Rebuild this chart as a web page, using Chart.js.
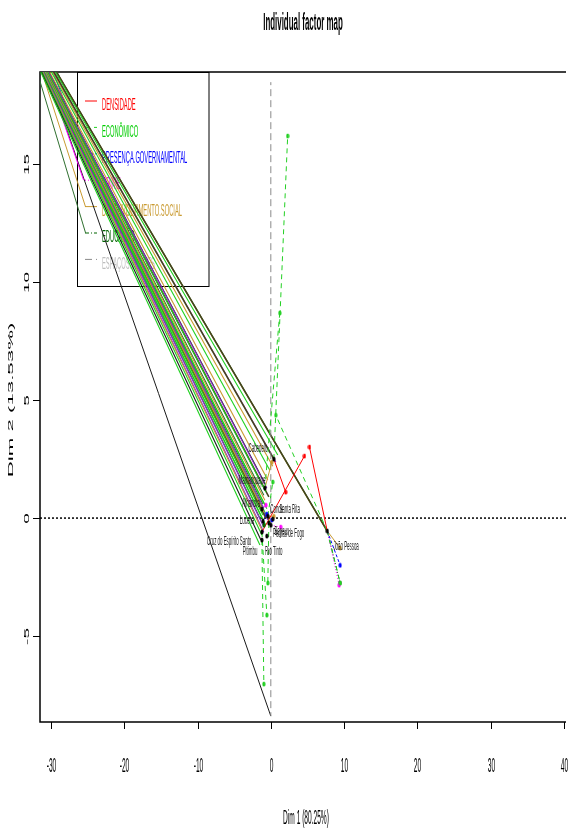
<!DOCTYPE html>
<html>
<head>
<meta charset="utf-8">
<script src="https://cdn.jsdelivr.net/npm/chart.js@4.4.1/dist/chart.umd.min.js"></script>
<style>
  html, body { margin: 0; padding: 0; background: #fff; }
  canvas { display: block; }
</style>
</head>
<body>
<canvas id="factor-map" width="571" height="828"></canvas>
<script>
// axis ticks
var xTicks = [-30, -20, -10, 0, 10, 20, 30, 40];
var yTicks = [-5, 0, 5, 10, 15];

// individuals (municipios) + where their labels sit
var indNames = ['Cabedelo', 'Mamanguape', 'Alhandra', 'Lucena', 'Conde', 'Santa Rita', 'Bayeux',
  'Pedras de Fogo', 'Cruz do Espírito Santo', 'Pitimbu', 'Rio Tinto', 'João Pessoa'];
var indX = [0.41, -0.81, -1.22, -1.08, -0.41, 0.27, -0.27, 0.00, -1.22, -1.22, -0.54, 7.70];
var indY = [2.50, 1.27, 0.38, -0.13, 0.08, -0.04, -0.21, -0.30, -0.59, -0.93, -0.76, -0.55];
var labX = [-1.76, -2.57, -2.70, -3.24, 0.81, 2.57, 1.49, 2.43, -5.68, -2.84, 0.41, 10.27];
var labY = [2.97, 1.61, 0.64, -0.08, 0.38, 0.38, -0.55, -0.64, -0.97, -1.40, -1.40, -1.19];

// groups
var groups = ['DENSIDADE', 'ECONÔMICO', 'PRESENÇA.GOVERNAMENTAL', 'CRIME', 'DESENVOLVIMENTO.SOCIAL', 'EDUCAÇÃO', 'ESPAÇOS.VERDES'];

// partial points: value + index of the individual it hangs from
var densX = [2.03, 4.59, 5.27];
var densY = [1.10, 2.63, 3.01];
var densFrom = [0, 8, 11];
var econX = [2.30, 1.22, 0.68, -0.95, -0.54, -0.41, 0.27, 9.46];
var econY = [16.19, 8.69, 4.36, -7.03, -4.11, -2.75, 1.53, -2.75];
var econFrom = [0, 1, 11, 9, 8, 6, 4, 11];
var presX = [9.46, -0.54, 0.14];
var presY = [-2.00, 0.17, -0.08];
var presFrom = [11, 3, 5];
var crimeX = [9.32, -0.68, 1.35];
var crimeY = [-2.84, 0.55, -0.38];
var crimeFrom = [11, 2, 7];
var desX = [9.46, 0.41, 0.14];
var desY = [-1.27, 0.08, 2.37];
var desFrom = [11, 4, 1];
var eduX = [9.46, -0.95];
var eduY = [-2.75, -0.30];
var eduFrom = [11, 3];
var espX = [0.00, 0.00];
var espY = [18.47, -8.39];
var espFrom = [7, 7];

// the long lines running off to the upper left
var fanOrigin = { x: -39.3, y: 24.2 };
var fanEndX = [-1.49, -1.35, -1.22, -1.22, -1.08, -1.35, -1.08, -0.95, -0.95, -0.81, -0.68, -0.41, -0.68, -0.81,
  -0.95, -0.68, -0.54, -0.81, -0.41, -0.14, 0.41, -0.14, 0.68, 0.95, 0.27, 7.70, 7.57, 7.84,
  -1.22, -1.08, -0.95, -1.35, -0.54, -0.27];
var fanEndY = [-1.14, -0.93, -0.72, -0.51, -0.30, -0.08, 0.13, 0.25, 0.42, 0.55, 0.00, -0.08, -0.30, 0.76,
  0.97, 1.10, 1.27, 1.48, 1.61, -0.17, 2.50, 2.03, 2.37, 2.67, 2.20, -0.55, -0.47, -0.64,
  0.00, 0.60, -0.60, 0.30, 0.40, 0.90];
var fanKind = ['green', 'black', 'green', 'gold', 'purple', 'dkgreen', 'green', 'gold', 'purple', 'green', 'olive', 'purple', 'green', 'gold',
  'dkgreen', 'green', 'purple', 'black', 'gold', 'green', 'olive', 'green', 'purple', 'green', 'gold', 'olive', 'dkgreen', 'gold',
  'green', 'dkgreen', 'purple', 'gold', 'green', 'olive'];
var fan2Origin = { x: -40.1, y: 27.4 };
var fan2EndX = [-25.54, -25.54, -25.27, -25.27, 0.00];
var fan2EndY = [15.51, 14.32, 13.18, 12.08, -8.39];
var fan2Kind = ['blue', 'magenta', 'gold', 'dkgreen', 'black'];

// styles
var groupStyle = {
  'DENSIDADE': { color: '#ff0000', dash: [], width: 1 },
  'ECONÔMICO': { color: '#22d022', dash: [5, 4], width: 1 },
  'PRESENÇA.GOVERNAMENTAL': { color: '#0000ff', dash: [3, 2], width: 1 },
  'CRIME': { color: '#ff00ff', dash: [1, 2], width: 1 },
  'DESENVOLVIMENTO.SOCIAL': { color: '#c99a30', dash: [], width: 1 },
  'EDUCAÇÃO': { color: '#006400', dash: [4, 2, 1, 2], width: 1 },
  'ESPAÇOS.VERDES': { color: '#8a8a8a', dash: [7, 4], width: 1 }
};
var legendText = { 'ESPAÇOS.VERDES': '#bebebe', 'ECONÔMICO': '#00cd00' };
var fanStyle = {
  green: '#1ed01e', purple: '#8a2fc8', gold: '#c99a30', dkgreen: '#2f6f2f',
  olive: '#45451c', black: '#1a1a1a', blue: '#0000ff', magenta: '#ff00ff'
};
var SX = 0.55, SY = 1.65; // the picture is squeezed sideways and stretched up
var FONT = '"Liberation Sans", Arial, sans-serif';

function txt(ctx, s, x, y, size, opt) {
  opt = opt || {};
  ctx.save();
  ctx.font = (opt.bold ? 'bold ' : '') + size + 'px ' + FONT;
  ctx.fillStyle = opt.color || '#000';
  ctx.translate(x, y);
  ctx.scale(SX, SY);
  if (opt.rot) ctx.rotate(opt.rot);
  ctx.textAlign = opt.align || 'center';
  ctx.textBaseline = 'alphabetic';
  var cap = ctx.measureText('H').actualBoundingBoxAscent;
  ctx.fillText(s, 0, cap / 2);
  ctx.restore();
}

function dot(color) {
  var c = document.createElement('canvas');
  c.width = 4; c.height = 6;
  var g = c.getContext('2d');
  g.fillStyle = color;
  g.beginPath();
  g.ellipse(2, 3, 1.6, 2.6, 0, 0, 2 * Math.PI);
  g.fill();
  return c;
}

function seg(x0, y0, x1, y1, color, width, dash, order) {
  return {
    data: [{ x: x0, y: y0 }, { x: x1, y: y1 }],
    showLine: true, borderColor: color, borderWidth: width, borderDash: dash || [],
    pointRadius: 0, pointHoverRadius: 0, fill: false, order: order
  };
}

var datasets = [];
/*Fan lines*/
fanEndX.forEach(function (x, i) {
  datasets.push(seg(fanOrigin.x, fanOrigin.y, x, fanEndY[i], fanStyle[fanKind[i]], fanKind[i] == 'olive' ? 1.6 : 1.1, [], 3));
});
fan2EndX.forEach(function (x, i) {
  datasets.push(seg(fan2Origin.x, fan2Origin.y, x, fan2EndY[i], fanStyle[fan2Kind[i]], 1, [], 3));
});
/*Partial lines + points*/
var partials = [
  [groups[0], densX, densY, densFrom], [groups[1], econX, econY, econFrom],
  [groups[2], presX, presY, presFrom], [groups[3], crimeX, crimeY, crimeFrom],
  [groups[4], desX, desY, desFrom], [groups[5], eduX, eduY, eduFrom],
  [groups[6], espX, espY, espFrom]
];
partials.forEach(function (p) {
  var st = groupStyle[p[0]];
  p[1].forEach(function (x, i) {
    var k = p[3][i];
    datasets.push(seg(indX[k], indY[k], x, p[2][i], st.color, st.width, st.dash, 2));
  });
  if (p[0] != 'ESPAÇOS.VERDES') {
    datasets.push({
      data: p[1].map(function (x, i) { return { x: x, y: p[2][i] }; }),
      showLine: false, pointStyle: dot(st.color), pointRadius: 3, order: 1
    });
  }
});
datasets.push({
  data: indX.map(function (x, i) { return { x: x, y: indY[i] }; }),
  showLine: false, pointStyle: dot('#000'), pointRadius: 3, order: 0
});

var rPlot = {
  id: 'rPlot',
  beforeDatasetsDraw: function (chart) {
    var ctx = chart.ctx, a = chart.chartArea, sy = chart.scales.y;
    ctx.save();
    // frame
    ctx.strokeStyle = '#000';
    ctx.lineWidth = 1.5;
    ctx.beginPath();
    ctx.moveTo(a.right, a.top); ctx.lineTo(a.left, a.top); ctx.lineTo(a.left, a.bottom); ctx.lineTo(a.right, a.bottom);
    ctx.stroke();
    // dotted zero line
    ctx.setLineDash([2, 2]);
    ctx.beginPath();
    ctx.moveTo(a.left, sy.getPixelForValue(0)); ctx.lineTo(a.right, sy.getPixelForValue(0));
    ctx.stroke();
    ctx.setLineDash([]);
    // legend
    ctx.lineWidth = 1;
    ctx.strokeRect(77.5, 72.5, 131.5, 214);
    groups.forEach(function (g, i) {
      var st = groupStyle[g], y = 101 + i * 26.4;
      ctx.strokeStyle = st.color;
      ctx.setLineDash(st.dash);
      ctx.beginPath(); ctx.moveTo(85, y); ctx.lineTo(97, y); ctx.stroke();
      ctx.setLineDash([]);
      txt(ctx, g, 102, y + 2.5, 10.5, { align: 'left', color: legendText[g] || st.color });
    });
    ctx.restore();
  },
  afterDatasetsDraw: function (chart) {
    var sx = chart.scales.x, sy = chart.scales.y;
    indNames.forEach(function (n, i) {
      txt(chart.ctx, n, sx.getPixelForValue(labX[i]), sy.getPixelForValue(labY[i]), 8, { color: '#222' });
    });
  },
  afterDraw: function (chart) {
    var ctx = chart.ctx, a = chart.chartArea, sx = chart.scales.x, sy = chart.scales.y;
    ctx.save();
    ctx.strokeStyle = '#000';
    ctx.lineWidth = 1;
    xTicks.forEach(function (v) {
      var px = Math.round(sx.getPixelForValue(v)) + 0.5;
      ctx.beginPath(); ctx.moveTo(px, a.bottom); ctx.lineTo(px, a.bottom + 7); ctx.stroke();
      txt(ctx, String(v), px, 765, 12);
    });
    yTicks.forEach(function (v) {
      var py = Math.round(sy.getPixelForValue(v)) + 0.5;
      ctx.beginPath(); ctx.moveTo(a.left, py); ctx.lineTo(a.left - 7, py); ctx.stroke();
      txt(ctx, String(v), 27, py, 11.5, { rot: -Math.PI / 2 });
    });
    ctx.restore();
    txt(ctx, 'Individual factor map', (a.left + a.right) / 2, 21.5, 14.4, { bold: true });
    txt(ctx, 'Dim 1 (80.25%)', 306, 817, 12);
    txt(ctx, 'Dim 2 (13.53%)', 11, 400, 13.5, { rot: -Math.PI / 2 });
  }
};

new Chart(document.getElementById('factor-map'), {
  type: 'scatter',
  data: { datasets: datasets },
  options: {
    responsive: false,
    animation: false,
    devicePixelRatio: 1,
    layout: { padding: { left: 40, top: 72, right: 0, bottom: 106 } },
    scales: {
      x: { type: 'linear', min: -31.49, max: 40.27, display: false },
      y: { type: 'linear', min: -8.64, max: 18.9, display: false }
    },
    plugins: { legend: { display: false }, tooltip: { enabled: false }, title: { display: false } }
  },
  plugins: [rPlot]
});
</script>
</body>
</html>
